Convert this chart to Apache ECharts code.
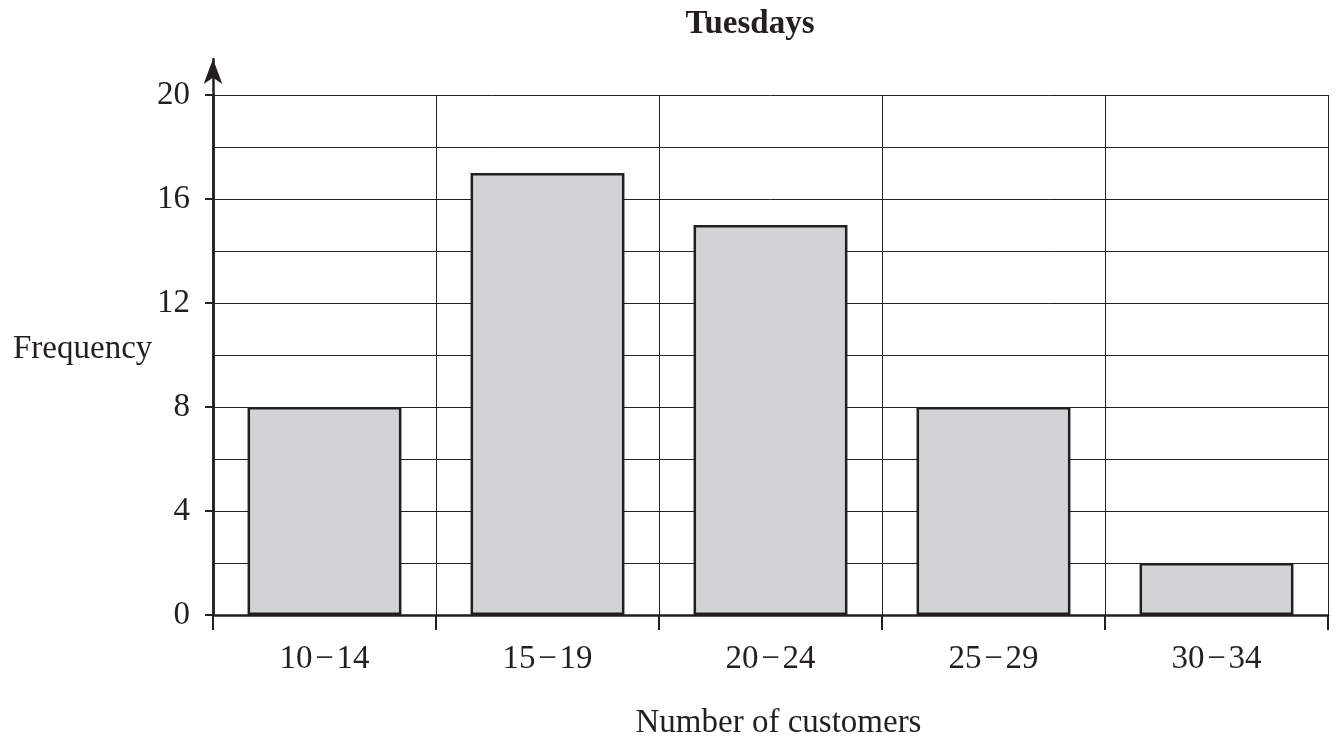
<!DOCTYPE html>
<html>
<head>
<meta charset="utf-8">
<title>Tuesdays</title>
<script src="https://cdn.jsdelivr.net/npm/echarts@6/dist/echarts.min.js"></script>
<style>
  html, body { margin: 0; padding: 0; background: #ffffff; }
  #chart { width: 1336px; height: 740px; }
</style>
</head>
<body>
<div id="chart"></div>
<script>
// Customer counts grouped into classes, with how many Tuesdays fell in each
const categories = ['10\u200A\u2212\u200A14', '15\u200A\u2212\u200A19', '20\u200A\u2212\u200A24', '25\u200A\u2212\u200A29', '30\u200A\u2212\u200A34'];
const frequencies = [8, 17, 15, 8, 2];
const yTicks = [0, 4, 8, 12, 16, 20];

const ink = '#231f20';
const serif = '"Liberation Serif", "Times New Roman", serif';
const fs = 33;

const chart = echarts.init(document.getElementById('chart'));

chart.setOption({
  animation: false,
  backgroundColor: '#ffffff',
  textStyle: { fontFamily: serif, color: ink },
  title: [
    {
      text: 'Tuesdays',
      left: 745,
      top: 3,
      textAlign: 'center',
      textStyle: { fontFamily: serif, fontWeight: 'bold', fontSize: fs, color: ink }
    },
    {
      text: 'Frequency',
      left: 8,
      top: 328,
      textStyle: { fontFamily: serif, fontWeight: 'normal', fontSize: fs, color: ink }
    }
  ],
  grid: [
    { left: 213, right: 8, top: 95, bottom: 125, outerBoundsMode: 'none', containLabel: false },
    // second grid only carries the arrow-headed vertical axis line
    { left: 213, right: 8, top: 59, bottom: 125, outerBoundsMode: 'none', containLabel: false }
  ],
  xAxis: [
    {
      type: 'category',
      gridIndex: 0,
      data: categories,
      boundaryGap: true,
      name: 'Number of customers',
      nameLocation: 'middle',
      nameGap: 92,
      nameTextStyle: { fontFamily: serif, fontSize: fs, color: ink, padding: [0, 0, 0, 16] },
      axisLine: { show: true, lineStyle: { color: ink, width: 2.5 } },
      axisTick: { show: true, length: 15, lineStyle: { color: ink, width: 2 } },
      axisLabel: { margin: 28, fontFamily: serif, fontSize: fs, color: ink },
      splitLine: { show: true, lineStyle: { color: ink, width: 1 } }
    },
    {
      type: 'value',
      gridIndex: 1,
      show: false
    }
  ],
  yAxis: [
    {
      type: 'value',
      gridIndex: 0,
      min: yTicks[0],
      max: yTicks[yTicks.length - 1],
      interval: yTicks[1] - yTicks[0],
      axisLine: { show: true, lineStyle: { color: ink, width: 2.5 } },
      axisTick: { show: true, length: 8, lineStyle: { color: ink, width: 2 } },
      axisLabel: { margin: 23, fontFamily: serif, fontSize: fs, color: ink },
      splitLine: { show: true, lineStyle: { color: ink, width: 1 } },
      minorTick: { show: false, splitNumber: 2 },
      minorSplitLine: { show: true, lineStyle: { color: ink, width: 1 } }
    },
    {
      type: 'value',
      gridIndex: 1,
      min: 0,
      max: 1,
      axisLine: {
        show: true,
        symbol: ['none', 'arrow'],
        symbolSize: [14, 25],
        lineStyle: { color: ink, width: 2.5 }
      },
      axisTick: { show: false },
      axisLabel: { show: false },
      splitLine: { show: false }
    }
  ],
  series: [
    {
      type: 'bar',
      xAxisIndex: 0,
      yAxisIndex: 0,
      data: frequencies,
      barWidth: '69%',
      itemStyle: { color: '#d1d3d4', borderColor: ink, borderWidth: 2.5 }
    }
  ]
});
</script>
</body>
</html>
